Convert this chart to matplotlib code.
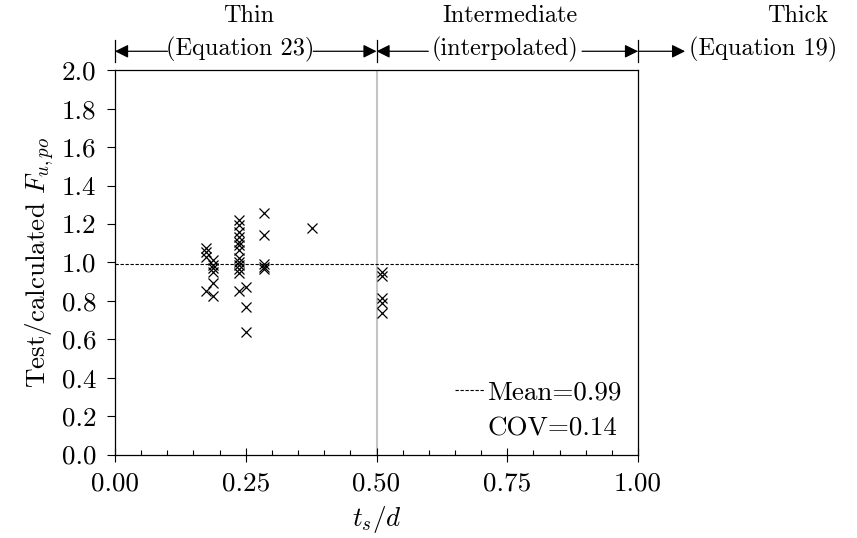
import numpy as np
import matplotlib.pyplot as plt
import matplotlib.transforms as mtransforms
from matplotlib.lines import Line2D
from matplotlib.ticker import MultipleLocator, FormatStrFormatter

plt.rcParams['font.family'] = 'serif'
plt.rcParams['font.serif'] = ['cmr10']
plt.rcParams['mathtext.fontset'] = 'cm'
plt.rcParams['axes.formatter.use_mathtext'] = True
plt.rcParams['font.size'] = 19.5

# test data (t_s/d vs test/calculated pull-out strength)
ts_d = [0.174, 0.174, 0.174, 0.174,
        0.188, 0.188, 0.188, 0.188, 0.188, 0.188,
        0.237, 0.237, 0.237, 0.237, 0.237, 0.237, 0.237,
        0.237, 0.237, 0.237, 0.237, 0.237, 0.237,
        0.250, 0.250, 0.250,
        0.284, 0.284, 0.284, 0.284, 0.284,
        0.376,
        0.511, 0.511, 0.511, 0.511, 0.511]
ratio = [1.074, 1.055, 1.031, 0.854,
         1.014, 0.987, 0.970, 0.953, 0.892, 0.826,
         1.222, 1.196, 1.161, 1.135, 1.109, 1.092, 1.066,
         1.022, 1.005, 0.987, 0.965, 0.944, 0.854,
         0.871, 0.767, 0.640,
         1.257, 1.144, 0.991, 0.979, 0.967,
         1.179,
         0.953, 0.930, 0.814, 0.791, 0.739]
mean_ratio = 0.99
cov_ratio = 0.14

# regions along the top
boundaries = [0.0, 0.5, 1.0]
region_names = ['Thin', 'Intermediate', 'Thick']
region_methods = ['(Equation 23)', '(interpolated)', '(Equation 19)']

fig = plt.figure(figsize=(8.57, 5.38), dpi=100)
ax = fig.add_subplot(111)
fig.subplots_adjust(left=0.1342, right=0.7445, bottom=0.1552, top=0.869)

ax.axvline(0.5, color='#c4c4c4', lw=1.5, zorder=0)
ax.axhline(mean_ratio, color='k', lw=0.8, ls=(0, (3, 1.5)), zorder=1)
ax.plot(ts_d, ratio, ls='none', marker='x', color='k', ms=7, mew=0.9, zorder=3)

ax.set_xlim(0, 1)
ax.set_ylim(0, 2)
ax.xaxis.set_major_locator(MultipleLocator(0.25))
ax.xaxis.set_minor_locator(MultipleLocator(0.05))
ax.yaxis.set_major_locator(MultipleLocator(0.2))
ax.xaxis.set_major_formatter(FormatStrFormatter('%.2f'))
ax.yaxis.set_major_formatter(FormatStrFormatter('%.1f'))
ax.tick_params(axis='y', direction='out', length=5.5, width=0.8, pad=8)
ax.tick_params(axis='x', which='major', direction='inout', length=9.5, width=0.8, pad=8)
ax.tick_params(axis='x', which='minor', direction='in', length=3.8, width=0.8)
for sp in ax.spines.values():
    sp.set_linewidth(0.9)

ax.set_xlabel(r'$t_s/d$', labelpad=6)
ax.set_ylabel(r'Test/calculated $F_{u,po}$')

# legend
h_mean = Line2D([], [], color='k', lw=0.8, ls=(0, (3, 1.5)))
h_cov = Line2D([], [], color='none')
ax.legend([h_mean, h_cov], [f'Mean={mean_ratio:.2f}', f'COV={cov_ratio:.2f}'],
          loc='lower right', bbox_to_anchor=(0.995, 0.0), frameon=False,
          handlelength=1.1, handletextpad=0.1, borderpad=0, labelspacing=0.45)

# top region annotations
trans = mtransforms.blended_transform_factory(ax.transData, ax.transAxes)
y_arr = 1.05
for b in boundaries:
    ax.plot([b, b], [1.022, 1.08], color='k', lw=0.9, transform=trans, clip_on=False)

arrow_kw = dict(arrowstyle='-|>', color='k', lw=0.9, shrinkA=0, shrinkB=0, mutation_scale=20)
arrow_segments = [(0.1003, 0.0), (0.379, 0.5), (0.599, 0.5), (0.893, 1.0), (1.0, 1.09)]
for x0, x1 in arrow_segments:
    ax.annotate('', xy=(x1, y_arr), xytext=(x0, y_arr), xycoords=trans,
                textcoords=trans, arrowprops=arrow_kw, annotation_clip=False)

name_x = [0.256, 0.755, 1.306]
method_x = [0.24, 0.746, 1.24]
for nm, mt, xn, xm in zip(region_names, region_methods, name_x, method_x):
    ax.text(xn, 1.143, nm, transform=trans, ha='center', va='center', fontsize=17.5)
    ax.text(xm, 1.055, mt, transform=trans, ha='center', va='center', fontsize=17.5)

fig.savefig('out.png', dpi=100)
